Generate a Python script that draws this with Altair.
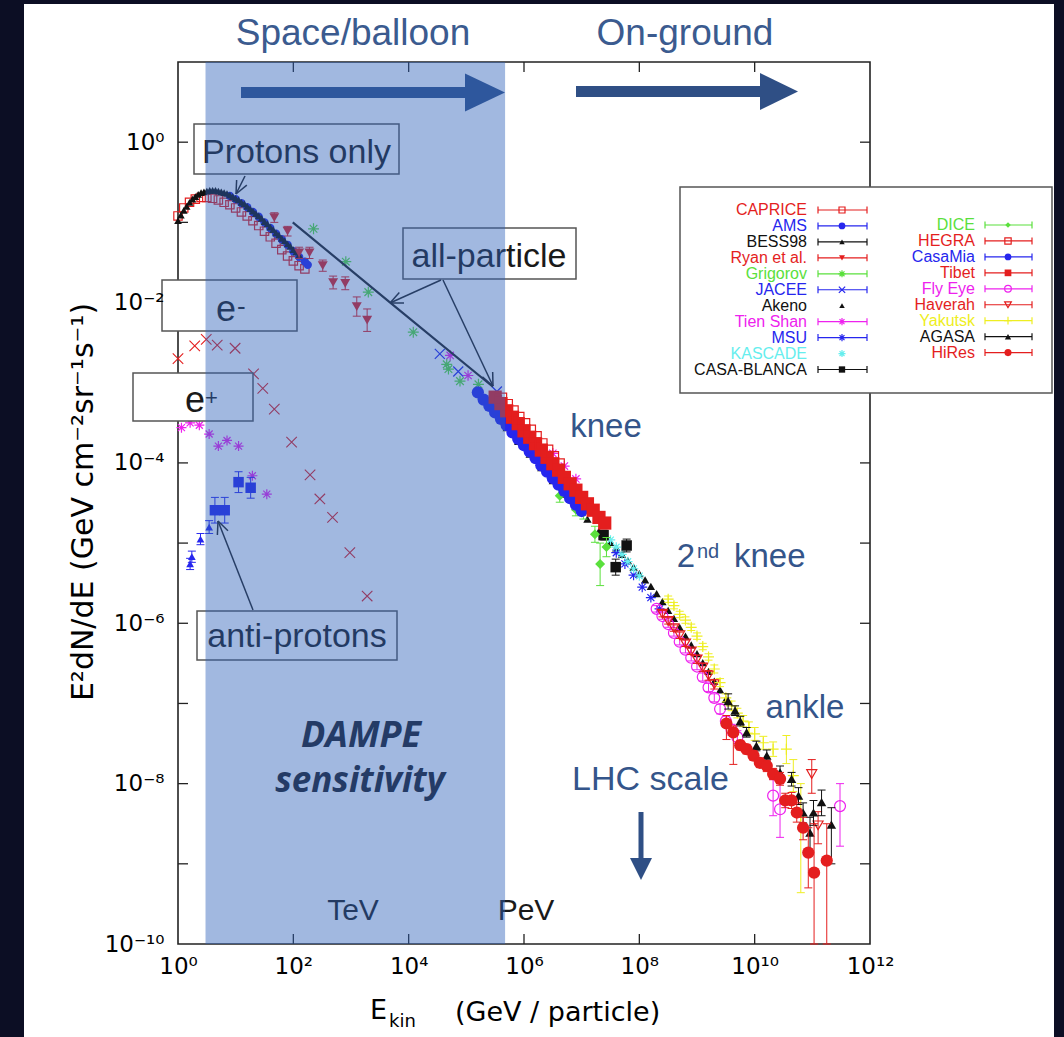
import math
import altair as alt
import pandas as pd

# ---------------- data: log10(E / GeV) and log10(E^2 dN/dE) ----------------
e_minus_logE = [0.00, 0.29, 0.49, 0.68, 0.99, 1.31, 1.47, 1.67, 1.97, 2.29, 2.46, 2.68, 2.98, 3.28]
e_minus_logF = [-2.70, -2.54, -2.46, -2.53, -2.57, -2.89, -3.07, -3.33, -3.74, -4.15, -4.45, -4.68, -5.12, -5.66]

e_plus_logE = [0.06, 0.21, 0.37, 0.54, 0.70, 0.85, 1.05, 1.29, 1.54]
e_plus_logF = [-3.56, -3.50, -3.53, -3.64, -3.79, -3.72, -3.79, -4.16, -4.39]

pbar_tri_logE = [0.21, 0.24, 0.39, 0.54]
pbar_tri_logF = [-5.26, -5.17, -4.95, -4.80]
pbar_tri_err = [0.07, 0.07, 0.07, 0.08]
pbar_sq_logE = [0.64, 0.81, 1.05, 1.26]
pbar_sq_logF = [-4.59, -4.59, -4.24, -4.31]
pbar_sq_err = [0.16, 0.16, 0.13, 0.13]

caprice_logE = [0.0, 0.1, 0.2, 0.3, 0.4, 0.5, 0.6, 0.7, 0.8, 0.9, 1.0, 1.1, 1.2, 1.3, 1.4, 1.5, 1.6, 1.7, 1.8, 1.9, 2.0, 2.1, 2.2]
caprice_logF = [-0.92, -0.82, -0.75, -0.71, -0.69, -0.69, -0.70, -0.72, -0.75, -0.78, -0.82, -0.87, -0.92, -0.98, -1.04, -1.11, -1.18, -1.26, -1.34, -1.42, -1.48, -1.54, -1.58]

ams_logE = [0.9, 1.0, 1.1, 1.2, 1.3, 1.4, 1.5, 1.6, 1.7, 1.8, 1.9, 2.0, 2.1, 2.2, 2.25]
ams_logF = [-0.67, -0.71, -0.76, -0.81, -0.87, -0.93, -1.00, -1.07, -1.14, -1.21, -1.28, -1.36, -1.43, -1.49, -1.53]

bess_logE = [0.00, 0.05, 0.10, 0.15, 0.20, 0.25, 0.30, 0.35, 0.40, 0.45, 0.50, 0.55, 0.60, 0.65, 0.70,
             0.75, 0.80, 0.85, 0.90, 0.95, 1.00, 1.05, 1.10, 1.15, 1.20, 1.25, 1.30, 1.35, 1.40, 1.45,
             1.50, 1.55, 1.60, 1.65, 1.70, 1.75, 1.80, 1.85, 1.90, 1.95, 2.00, 2.05, 2.10]
bess_logF = [-0.98, -0.91, -0.85, -0.80, -0.75, -0.71, -0.68, -0.65, -0.63, -0.62, -0.61, -0.60, -0.60, -0.60, -0.61,
             -0.62, -0.63, -0.64, -0.66, -0.68, -0.70, -0.72, -0.75, -0.77, -0.80, -0.83, -0.86, -0.89, -0.92, -0.95,
             -0.99, -1.02, -1.06, -1.09, -1.13, -1.16, -1.20, -1.23, -1.27, -1.30, -1.34, -1.37, -1.41]

ryan_logE = [1.67, 1.90, 2.10, 2.28, 2.51, 2.69, 2.90, 3.10, 3.28]
ryan_logF = [-0.94, -1.11, -1.38, -1.38, -1.54, -1.75, -1.76, -2.05, -2.22]
ryan_err = [0.06, 0.06, 0.07, 0.07, 0.07, 0.08, 0.08, 0.12, 0.14]

grigorov_logE = [2.35, 2.91, 3.30, 4.08, 4.66, 4.69, 4.89, 5.21]
grigorov_logF = [-1.08, -1.49, -1.87, -2.37, -2.77, -2.83, -2.98, -3.02]

jacee_logE = [4.54, 4.86, 5.53]
jacee_logF = [-2.64, -2.86, -3.11]

akeno_logE = [5.7, 5.9, 6.1, 6.3, 6.5, 6.7, 6.9, 7.1, 7.3, 7.4, 7.5, 7.6, 7.7, 7.8, 7.9, 8.0, 8.1, 8.2,
              8.3, 8.4, 8.5, 8.6, 8.7, 8.8, 8.9, 9.0, 9.1, 9.2, 9.3, 9.4, 9.5]
akeno_logF = [-3.56, -3.73, -3.89, -4.06, -4.22, -4.39, -4.55, -4.70, -4.85, -4.92, -4.99, -5.06, -5.14, -5.22,
              -5.30, -5.38, -5.46, -5.54, -5.63, -5.73, -5.84, -5.94, -6.05, -6.16, -6.27, -6.38, -6.49, -6.60,
              -6.72, -6.83, -6.95]

tienshan_logE = [4.72, 5.03, 6.5, 6.7, 6.9]
tienshan_logF = [-2.66, -2.91, -3.88, -4.04, -4.20]

msu_logE = [7.6, 7.75, 7.9, 8.05, 8.2, 8.35]
msu_logF = [-5.12, -5.26, -5.40, -5.55, -5.68, -5.82]

kascade_logE = [7.5, 7.6, 7.7, 7.8, 7.9, 8.0]
kascade_logF = [-4.96, -5.05, -5.14, -5.23, -5.32, -5.41]

casablanca_logE = [7.38, 7.78, 7.59]
casablanca_logF = [-4.90, -5.03, -5.30]
casablanca_lo = [-4.96, -5.11, -5.40]
casablanca_hi = [-4.84, -4.95, -5.20]

dice_logE = [6.62, 6.90, 7.03, 7.23, 7.43, 7.32]
dice_logF = [-4.41, -4.58, -4.62, -4.89, -5.05, -5.26]
dice_lo = [-4.49, -4.66, -4.70, -4.99, -5.17, -5.53]
dice_hi = [-4.33, -4.50, -4.54, -4.79, -4.93, -5.00]

hegra_logE = [5.6, 5.7, 5.8, 5.9, 6.0, 6.1, 6.2, 6.3, 6.4, 6.5, 6.6]
hegra_logF = [-3.20, -3.28, -3.36, -3.44, -3.52, -3.60, -3.68, -3.77, -3.85, -3.93, -4.02]

casamia_logE = [5.2, 5.3, 5.4, 5.5, 5.6, 5.7, 5.8, 5.9, 6.0, 6.1, 6.2, 6.3, 6.4, 6.5, 6.6, 6.7, 6.8, 6.9, 7.0]
casamia_logF = [-3.12, -3.21, -3.29, -3.37, -3.45, -3.53, -3.62, -3.70, -3.78, -3.86, -3.94, -4.03, -4.11, -4.19, -4.27, -4.35, -4.44, -4.52, -4.60]

tibet_logE = [5.5, 5.6, 5.7, 5.8, 5.9, 6.0, 6.1, 6.2, 6.3, 6.4, 6.5, 6.6, 6.7, 6.8, 6.9, 7.0, 7.1, 7.2, 7.3, 7.4]
tibet_logF = [-3.18, -3.26, -3.35, -3.43, -3.51, -3.60, -3.68, -3.76, -3.84, -3.93, -4.01, -4.09, -4.18, -4.26, -4.34, -4.43, -4.51, -4.59, -4.68, -4.75]

flyeye_logE = [8.3, 8.4, 8.5, 8.6, 8.7, 8.8, 8.9, 9.0, 9.1, 9.2, 9.3, 9.4, 9.5, 9.6, 9.7, 10.32, 10.44, 11.48]
flyeye_logF = [-5.82, -5.91, -6.01, -6.12, -6.23, -6.33, -6.43, -6.54, -6.67, -6.80, -6.93, -7.07, -7.22, -7.33,
               -7.42, -8.15, -8.32, -8.28]
flyeye_lo = [-5.86, -5.95, -6.05, -6.16, -6.27, -6.37, -6.47, -6.58, -6.72, -6.85, -6.98, -7.13, -7.28, -7.40,
             -7.50, -8.40, -8.67, -8.78]
flyeye_hi = [-5.78, -5.87, -5.97, -6.08, -6.19, -6.29, -6.39, -6.50, -6.62, -6.75, -6.88, -7.01, -7.16, -7.26,
             -7.34, -7.95, -8.00, -8.00]

haverah_logE = [8.4, 8.5, 8.6, 8.7, 8.8, 8.9, 9.0, 9.1, 9.2, 9.3, 10.99, 11.10]
haverah_logF = [-5.88, -5.97, -6.06, -6.15, -6.25, -6.35, -6.45, -6.55, -6.65, -6.76, -7.88, -8.52]
haverah_lo = [-5.92, -6.01, -6.10, -6.19, -6.29, -6.39, -6.50, -6.60, -6.71, -6.82, -8.12, -8.75]
haverah_hi = [-5.84, -5.93, -6.02, -6.11, -6.21, -6.31, -6.40, -6.50, -6.59, -6.70, -7.70, -8.35]

yakutsk_logE = [8.5, 8.6, 8.7, 8.8, 8.9, 9.0, 9.1, 9.2, 9.3, 9.4, 9.5, 9.6, 9.7, 9.8, 9.9, 10.0, 10.15, 10.32,
                10.55, 10.67, 10.80]
yakutsk_logF = [-5.70, -5.78, -5.89, -5.96, -6.05, -6.16, -6.29, -6.42, -6.57, -6.74, -6.93, -7.03, -7.12, -7.22,
                -7.30, -7.38, -7.49, -7.57, -7.57, -7.90, -8.40]
yakutsk_lo = [-5.74, -5.82, -5.93, -6.00, -6.09, -6.20, -6.33, -6.46, -6.62, -6.79, -6.98, -7.09, -7.18, -7.29,
              -7.37, -7.46, -7.57, -7.66, -7.75, -8.10, -9.36]
yakutsk_hi = [-5.66, -5.74, -5.85, -5.92, -6.01, -6.12, -6.25, -6.38, -6.52, -6.69, -6.88, -6.97, -7.06, -7.15,
              -7.23, -7.30, -7.41, -7.48, -7.40, -7.70, -8.00]

agasa_logE = [9.54, 9.66, 9.75, 9.86, 10.03, 10.21, 10.44, 10.64, 10.76, 10.84, 10.96, 11.02, 11.16, 11.33]
agasa_logF = [-6.97, -7.09, -7.22, -7.36, -7.53, -7.65, -7.86, -7.94, -8.15, -8.36, -8.61, -8.36, -8.23, -8.51]
agasa_lo = [-7.07, -7.15, -7.28, -7.42, -7.59, -7.72, -7.94, -8.03, -8.26, -8.49, -8.85, -8.52, -8.40, -9.00]
agasa_hi = [-6.88, -7.03, -7.16, -7.30, -7.47, -7.58, -7.78, -7.86, -8.05, -8.24, -8.42, -8.21, -8.08, -8.30]

hires_logE = [9.51, 9.63, 9.75, 9.86, 9.98, 10.09, 10.21, 10.32, 10.44, 10.53, 10.64, 10.73, 10.84, 10.93, 11.03, 11.25]
hires_logF = [-7.25, -7.36, -7.52, -7.57, -7.65, -7.74, -7.78, -7.88, -7.94, -8.21, -8.21, -8.36, -8.55, -8.86, -9.11, -8.96]
hires_lo = [-7.45, -7.76, -7.58, -7.63, -7.71, -7.80, -7.85, -7.95, -8.02, -8.30, -8.31, -8.48, -8.70, -9.30, -10.0, -10.0]
hires_hi = [-7.15, -7.28, -7.46, -7.51, -7.59, -7.68, -7.71, -7.81, -7.86, -8.12, -8.11, -8.24, -8.42, -8.55, -8.50, -8.50]

allparticle_logE = [1.99, 3.68, 5.46]
allparticle_logF = [-1.00, -2.00, -3.05]

band_E = [3.0, 4.7e5]   # DAMPE sensitivity range (GeV)

legend_left = ["CAPRICE", "AMS", "BESS98", "Ryan et al.", "Grigorov", "JACEE", "Akeno",
               "Tien Shan", "MSU", "KASCADE", "CASA-BLANCA"]
legend_right = ["DICE", "HEGRA", "CasaMia", "Tibet", "Fly Eye", "Haverah", "Yakutsk", "AGASA", "HiRes"]

x_tick_exps = [0, 2, 4, 6, 8, 10, 12]
y_tick_exps = [-10, -8, -6, -4, -2, 0]

# ---------------- styling ----------------
RED = "#e41e1e"
BLUE = "#2626ee"
BLACK = "#111111"
GREEN = "#5ae03c"
MAGENTA = "#ee22ee"
CYAN = "#66eeee"
YELLOW = "#eeee22"
NAVY = "#34558a"
ARROW = "#2f4f85"
INK = "#1a1a1a"
FONT = "Liberation Sans"
AXFONT = "DejaVu Sans"

X_SHAPE = "M-1,-1L1,1M-1,1L1,-1"
AST_SHAPE = "M-1,0L1,0M0,-1L0,1M-0.7,-0.7L0.7,0.7M-0.7,0.7L0.7,-0.7"
PLUS_SHAPE = "M-1,0L1,0M0,-1L0,1"

# name: (color, shape, filled, size, legend size, bar in legend)
STYLE = {
    "CAPRICE": (RED, "square", False, 70, 36, True),
    "AMS": (BLUE, "circle", True, 70, 45, True),
    "BESS98": (BLACK, "triangle-up", True, 60, 30, True),
    "Ryan et al.": (RED, "triangle-down", True, 100, 36, True),
    "Grigorov": (GREEN, AST_SHAPE, False, 120, 50, True),
    "JACEE": (BLUE, X_SHAPE, False, 100, 40, True),
    "Akeno": (BLACK, "triangle-up", True, 70, 30, False),
    "Tien Shan": (MAGENTA, AST_SHAPE, False, 110, 50, True),
    "MSU": (BLUE, AST_SHAPE, False, 100, 50, True),
    "KASCADE": (CYAN, AST_SHAPE, False, 90, 50, False),
    "CASA-BLANCA": (BLACK, "square", True, 110, 40, True),
    "DICE": (GREEN, "diamond", True, 100, 30, True),
    "HEGRA": (RED, "square", False, 130, 40, True),
    "CasaMia": (BLUE, "circle", True, 150, 45, True),
    "Tibet": (RED, "square", True, 175, 45, True),
    "Fly Eye": (MAGENTA, "circle", False, 120, 45, True),
    "Haverah": (RED, "triangle-down", False, 100, 45, True),
    "Yakutsk": (YELLOW, PLUS_SHAPE, False, 120, 60, True),
    "AGASA": (BLACK, "triangle-up", True, 90, 40, True),
    "HiRes": (RED, "circle", True, 150, 50, True),
}

# ---------------- geometry ----------------
W_PAGE, H_PAGE = 1064, 1037
PL, PT, PW, PH = 178, 62, 692, 882
XE0, XE1 = 0, 12
YE0, YE1 = -10, 1


def ex(px):
    return 10 ** (XE0 + (px - PL) / PW * (XE1 - XE0))


def ey(py):
    return 10 ** (YE1 - (py - PT) / PH * (YE1 - YE0))


SUP = str.maketrans("0123456789-", "⁰¹²³⁴⁵⁶⁷⁸⁹⁻")


def label_expr(exps):
    expr = "''"
    for k in exps:
        expr = f"round(log(datum.value)/LN10) == {k} ? '10{str(k).translate(SUP)}' : ({expr})"
    return expr


XSCALE = alt.Scale(type="log", domain=[10 ** XE0, 10 ** XE1], nice=False)
YSCALE = alt.Scale(type="log", domain=[10.0 ** YE0, 10.0 ** YE1], nice=False)
AX_X = alt.Axis(values=[10.0 ** k for k in x_tick_exps], labelExpr=label_expr(x_tick_exps),
                ticks=False, tickSize=0, domain=False, grid=False, title=None,
                labelFont=AXFONT, labelFontSize=23, labelColor="black", labelPadding=11,
                labelFlush=False, labelOverlap=False, zindex=1)
AX_Y = alt.Axis(values=[10.0 ** k for k in y_tick_exps], labelExpr=label_expr(y_tick_exps),
                ticks=False, tickSize=0, domain=False, grid=False, title=None,
                labelFont=AXFONT, labelFontSize=23, labelColor="black", labelPadding=14,
                labelFlush=False, labelOverlap=False, zindex=1)


def X(f):
    return alt.X(f"{f}:Q", scale=XSCALE, axis=AX_X)


def Y(f):
    return alt.Y(f"{f}:Q", scale=YSCALE, axis=AX_Y)


ONE = pd.DataFrame({"a": [0]})


def vx(px):
    return alt.value(px - PL)


def vy(py):
    return alt.value(py - PT)


def text(s, px, py, size, color=INK, align="center", baseline="alphabetic", font=FONT,
         weight="normal", style="normal", angle=0):
    return alt.Chart(pd.DataFrame({"t": [s]})).mark_text(
        align=align, baseline=baseline, font=font, fontSize=size, fontWeight=weight,
        fontStyle=style, color=color, angle=angle
    ).encode(x=vx(px), y=vy(py), text="t:N")


def prect(x1, y1, x2, y2, **kw):
    return alt.Chart(ONE).mark_rect(**kw).encode(x=vx(x1), x2=vx(x2), y=vy(y1), y2=vy(y2))


def head(cx, cy, path, size, color):
    return alt.Chart(ONE).mark_point(shape=path, filled=True, size=size, color=color,
                                     opacity=1).encode(x=vx(cx), y=vy(cy))


def series(logE, logF, color, shape, filled, size, lo=None, hi=None, sw=1.2, cap=8):
    df = pd.DataFrame({"E": [10 ** v for v in logE], "F": [10 ** v for v in logF]})
    out = []
    if lo is not None:
        df["lo"] = [10 ** v for v in lo]
        df["hi"] = [10 ** v for v in hi]
        out.append(alt.Chart(df).mark_rule(color=color, strokeWidth=1).encode(
            x=X("E"), y=Y("lo"), y2=alt.Y2("hi")))
        caps = pd.DataFrame({"E": list(df["E"]) * 2, "c": list(df["lo"]) + list(df["hi"])})
        out.append(alt.Chart(caps).mark_tick(orient="horizontal", size=cap, thickness=1,
                                             color=color, opacity=1).encode(x=X("E"), y=Y("c")))
    out.append(alt.Chart(df).mark_point(shape=shape, filled=filled, size=size, color=color,
                                        strokeWidth=sw, opacity=1).encode(x=X("E"), y=Y("F")))
    return out


def sym_err(logF, err):
    return [f - e for f, e in zip(logF, err)], [f + e for f, e in zip(logF, err)]


layers = []

# page
layers.append(prect(24, 4, 1054, H_PAGE + 5, color="white"))

# frame and inward ticks
layers.append(prect(PL, PT, PL + PW, PT + PH, fillOpacity=0, stroke="#222222", strokeWidth=1.6))
TL = 10
tick_rows = []
for k in x_tick_exps[1:-1]:
    tick_rows.append({"x1": 10.0 ** k, "x2": 10.0 ** k, "y1": ey(PT + PH), "y2": ey(PT + PH - TL)})
    tick_rows.append({"x1": 10.0 ** k, "x2": 10.0 ** k, "y1": ey(PT), "y2": ey(PT + TL)})
for k in range(YE0 + 1, YE1):
    tick_rows.append({"x1": ex(PL), "x2": ex(PL + TL), "y1": 10.0 ** k, "y2": 10.0 ** k})
    tick_rows.append({"x1": ex(PL + PW), "x2": ex(PL + PW - TL), "y1": 10.0 ** k, "y2": 10.0 ** k})
layers.append(alt.Chart(pd.DataFrame(tick_rows)).mark_rule(color="#222222", strokeWidth=1.3).encode(
    x=X("x1"), x2=alt.X2("x2"), y=Y("y1"), y2=alt.Y2("y2")))

# electrons, positrons, antiprotons
layers += series(e_minus_logE, e_minus_logF, RED, X_SHAPE, False, 110, sw=1.1)
layers += series(e_plus_logE, e_plus_logF, MAGENTA, AST_SHAPE, False, 100)
lo, hi = sym_err(pbar_tri_logF, pbar_tri_err)
layers += series(pbar_tri_logE, pbar_tri_logF, BLUE, "triangle-up", True, 60, lo, hi)
lo, hi = sym_err(pbar_sq_logF, pbar_sq_err)
layers += series(pbar_sq_logE, pbar_sq_logF, BLUE, "square", True, 110, lo, hi)


def named(name, logE, logF, lo=None, hi=None):
    c, s, f, z, _, _ = STYLE[name]
    return series(logE, logF, c, s, f, z, lo, hi)


layers += named("CAPRICE", caprice_logE, caprice_logF)
layers += named("AMS", ams_logE, ams_logF)
layers += named("BESS98", bess_logE, bess_logF)
lo, hi = sym_err(ryan_logF, ryan_err)
layers += named("Ryan et al.", ryan_logE, ryan_logF, lo, hi)
layers += named("Grigorov", grigorov_logE, grigorov_logF)
layers += named("JACEE", jacee_logE, jacee_logF)
layers += named("Akeno", akeno_logE, akeno_logF)
layers += named("Tien Shan", tienshan_logE, tienshan_logF)
layers += named("MSU", msu_logE, msu_logF)
layers += named("KASCADE", kascade_logE, kascade_logF)
layers += named("CASA-BLANCA", casablanca_logE, casablanca_logF, casablanca_lo, casablanca_hi)
layers += named("DICE", dice_logE, dice_logF, dice_lo, dice_hi)
layers += named("CasaMia", casamia_logE, casamia_logF)
layers += named("Tibet", tibet_logE, tibet_logF)
layers += named("HEGRA", hegra_logE, hegra_logF)
layers += named("Fly Eye", flyeye_logE, flyeye_logF, flyeye_lo, flyeye_hi)
layers += named("Haverah", haverah_logE, haverah_logF, haverah_lo, haverah_hi)
layers += named("Yakutsk", yakutsk_logE, yakutsk_logF, yakutsk_lo, yakutsk_hi)
layers += named("AGASA", agasa_logE, agasa_logF, agasa_lo, agasa_hi)
layers += named("HiRes", hires_logE, hires_logF, hires_lo, hires_hi)

# all-particle spectrum line
ap = pd.DataFrame({"E": [10 ** v for v in allparticle_logE], "F": [10 ** v for v in allparticle_logF]})
layers.append(alt.Chart(ap).mark_line(color="#222222", strokeWidth=2.2).encode(x=X("E"), y=Y("F")))

# annotation boxes
boxes = [(194, 124, 399, 174), (162, 280, 297, 331), (133, 373, 253, 421),
         (403, 228, 576, 279), (197, 611, 397, 660)]
for b in boxes:
    layers.append(prect(*b, fill="white", stroke="#555555", strokeWidth=1.5))

layers.append(text("Protons only", 296.5, 163, 34))
layers.append(text("all-particle", 489, 267, 34))
layers.append(text("anti-protons", 297, 647, 34))
layers.append(text("e", 226, 321, 36))
layers.append(text("-", 237, 314.5, 26, align="left"))
layers.append(text("e", 195, 412, 36))
layers.append(text("+", 205, 405, 22, align="left"))
layers.append(text("TeV", 353, 920, 30))
layers.append(text("PeV", 526, 920, 30))

# pointer arrows
arrows = [((245, 176), (236, 194)), ((441, 280), (390, 303)),
          ((443, 280), (493, 386)), ((253, 610), (218, 521))]
segs = []
for (x0, y0), (x1, y1) in arrows:
    segs.append((x0, y0, x1, y1))
    ang = math.atan2(y1 - y0, x1 - x0)
    for da in (math.radians(24), -math.radians(24)):
        segs.append((x1, y1, x1 - 14 * math.cos(ang + da), y1 - 14 * math.sin(ang + da)))
seg_df = pd.DataFrame({"x1": [ex(s[0]) for s in segs], "y1": [ey(s[1]) for s in segs],
                       "x2": [ex(s[2]) for s in segs], "y2": [ey(s[3]) for s in segs]})
layers.append(alt.Chart(seg_df).mark_rule(color="#222222", strokeWidth=1.5).encode(
    x=X("x1"), x2=alt.X2("x2"), y=Y("y1"), y2=alt.Y2("y2")))

# top arrows (under the band)
layers.append(prect(241, 87, 466, 98, color=ARROW))
layers.append(head(485, 92.5, "M-1,-0.95L1,0L-1,0.95Z", 1600, ARROW))
layers.append(prect(576, 86, 761, 97, color=ARROW))
layers.append(head(779, 91.5, "M-1,-0.97L1,0L-1,0.97Z", 1444, ARROW))

# DAMPE band
band = pd.DataFrame({"a": [band_E[0]], "b": [band_E[1]]})
layers.append(alt.Chart(band).mark_rect(color="#2e61ba", opacity=0.45).encode(
    x=X("a"), x2=alt.X2("b"), y=vy(PT), y2=vy(PT + PH)))

layers.append(text("DAMPE", 361, 747, 36, color="#243b66", font="Open Sans", weight="bold", style="italic"))
layers.append(text("sensitivity", 360, 792, 35, color="#243b66", font="Open Sans", weight="bold", style="italic"))

# headings and region labels
layers.append(text("Space/balloon", 353, 45, 37, color="#3b5b8f"))
layers.append(text("On-ground", 685, 45, 37, color="#3b5b8f"))
layers.append(text("knee", 606, 437, 33, color=NAVY))
layers.append(text("2", 695, 567, 33, color=NAVY, align="right"))
layers.append(text("nd", 697, 558, 20, color=NAVY, align="left"))
layers.append(text("knee", 734, 567, 33, color=NAVY, align="left"))
layers.append(text("ankle", 805, 718, 33, color=NAVY))
layers.append(text("LHC scale", 650.5, 790, 34, color=NAVY))
layers.append(prect(638.5, 812, 643.5, 859, color=ARROW))
layers.append(head(641, 869, "M-1,-1L1,-1L0,1Z", 484, ARROW))

# axis titles
layers.append(text("E²dN/dE   (GeV cm⁻²sr⁻¹s⁻¹)", 84, 502, 30, color="black",
                   baseline="middle", font=AXFONT, angle=270))
layers.append(text("E", 370, 1019, 27, color="black", align="left", font=AXFONT))
layers.append(text("kin", 389, 1027, 18, color="black", align="left", font=AXFONT))
layers.append(text("(GeV / particle)", 455, 1021, 27, color="black", align="left", font=AXFONT))

# legend
layers.append(prect(680, 187, 1052, 393, fill="white", stroke="#555555", strokeWidth=1.5))
DY = 15.95
cols = [(legend_left, 807, 210, 818, 867, 842), (legend_right, 975, 225, 985, 1032, 1008)]
leg_text, leg_bar, leg_cap, leg_sym = [], [], [], []
for names, tx, y0, b1, b2, sx in cols:
    for i, n in enumerate(names):
        c, s, f, z, lz, bar = STYLE[n]
        py = y0 + i * DY
        leg_text.append({"x": ex(tx), "y": ey(py), "name": n, "c": c})
        if bar:
            leg_bar.append({"x1": ex(b1), "x2": ex(b2), "y": ey(py), "c": c})
            leg_cap.append({"x": ex(b1), "y": ey(py), "c": c})
            leg_cap.append({"x": ex(b2), "y": ey(py), "c": c})
        leg_sym.append({"x": ex(sx), "y": ey(py), "c": c, "s": s, "z": lz, "f": f})
lt = pd.DataFrame(leg_text)
lb = pd.DataFrame(leg_bar)
lc = pd.DataFrame(leg_cap)
ls = pd.DataFrame(leg_sym)
layers.append(alt.Chart(lb).mark_rule(strokeWidth=1.2).encode(
    x=X("x1"), x2=alt.X2("x2"), y=Y("y"), color=alt.Color("c:N", scale=None)))
layers.append(alt.Chart(lc).mark_tick(orient="vertical", size=7, thickness=1.2, opacity=1).encode(
    x=X("x"), y=Y("y"), color=alt.Color("c:N", scale=None)))
for filled in (True, False):
    sub = ls[ls["f"] == filled].drop(columns="f")
    layers.append(alt.Chart(sub).mark_point(filled=filled, strokeWidth=1.2, opacity=1).encode(
        x=X("x"), y=Y("y"), shape=alt.Shape("s:N", scale=None),
        color=alt.Color("c:N", scale=None), size=alt.Size("z:Q", scale=None)))
layers.append(alt.Chart(lt).mark_text(align="right", baseline="middle", font=FONT, fontSize=16).encode(
    x=X("x"), y=Y("y"), text="name:N", color=alt.Color("c:N", scale=None)))

chart = alt.layer(*layers).properties(
    width=PW, height=PH, background="#0c0e24",
    padding={"left": PL, "top": PT, "right": W_PAGE - PL - PW, "bottom": H_PAGE - PT - PH},
    autosize=alt.AutoSizeParams(type="none"),
).configure_view(stroke=None)

chart.save("out.html", embed_options={"renderer": "svg", "actions": False})
